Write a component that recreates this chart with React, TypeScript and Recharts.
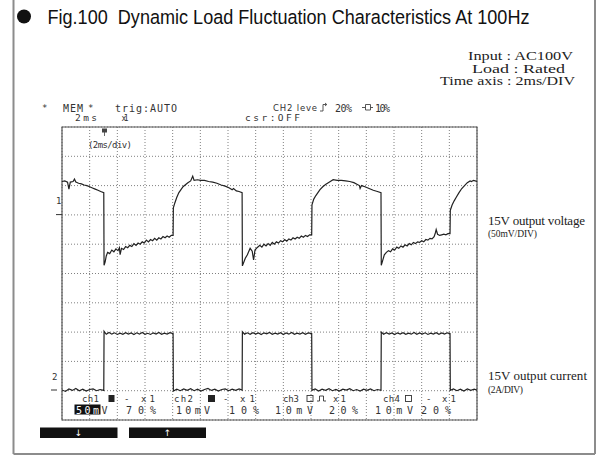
import React from "react";
import { ComposedChart, Line, XAxis, YAxis, CartesianGrid, ReferenceArea } from "recharts";

// time axis: 2 ms/div, 15 divisions
const timeTicksMs = [0, 2, 4, 6, 8, 10, 12, 14, 16, 18, 20, 22, 24, 26, 28, 30];
// ch1: 15V output voltage deviation, 50 mV/div (10 divisions)
const voltageTicksMv = [-350, -300, -250, -200, -150, -100, -50, 0, 50, 100, 150];

// [time ms, mV]
const voltageSamples: [number, number][] = [
  [0, 57], [0.2, 58], [0.4, 56], [0.5, 44], [0.6, 56], [0.8, 57], [0.9, 61], [1.0, 56], [1.2, 54], [1.4, 53],
  [1.6, 51], [1.8, 50], [2.0, 48], [2.2, 46], [2.4, 44], [2.6, 42], [2.8, 40], [3.02, 38],
  [3.04, -86], [3.12, -80], [3.2, -70], [3.3, -64], [3.45, -66], [3.6, -60], [3.75, -63], [3.9, -58], [4.05, -61],
  [4.15, -56], [4.2, -68], [4.3, -57], [4.45, -59], [4.6, -54], [4.75, -56], [4.9, -52], [5.05, -54], [5.2, -49],
  [5.35, -52], [5.5, -48], [5.65, -50], [5.8, -46], [5.95, -48], [6.1, -43], [6.25, -46], [6.4, -42], [6.55, -44],
  [6.7, -40], [6.85, -43], [7.0, -39], [7.15, -41], [7.3, -37], [7.45, -39], [7.6, -36], [7.75, -38], [7.9, -35], [8.03, -35],
  [8.05, 12], [8.15, 20], [8.3, 30], [8.45, 38], [8.6, 43], [8.75, 48], [8.9, 51], [9.1, 55], [9.3, 58], [9.45, 66],
  [9.55, 59], [9.8, 60], [10.0, 59], [10.3, 59], [10.6, 57], [10.9, 56], [11.2, 54], [11.5, 51], [11.8, 49],
  [12.1, 46], [12.3, 43], [12.4, 45], [12.6, 41], [12.8, 40], [13.02, 38],
  [13.04, -87], [13.12, -82], [13.25, -74], [13.4, -68], [13.6, -57], [13.75, -62], [13.85, -77], [13.95, -60],
  [14.1, -56], [14.3, -52], [14.45, -55], [14.6, -50], [14.75, -53], [14.9, -49], [15.05, -52], [15.2, -47],
  [15.35, -50], [15.5, -46], [15.65, -48], [15.8, -44], [15.95, -46], [16.1, -42], [16.25, -45], [16.4, -41],
  [16.55, -43], [16.7, -39], [16.85, -41], [17.0, -38], [17.15, -40], [17.3, -36], [17.45, -38], [17.6, -35],
  [17.75, -37], [17.9, -34], [18.05, -34],
  [18.07, 17], [18.2, 27], [18.35, 33], [18.5, 38], [18.65, 43], [18.85, 48], [19.05, 52], [19.25, 55], [19.45, 58],
  [19.6, 60], [19.9, 59], [20.2, 59], [20.5, 58], [20.8, 57], [21.1, 55], [21.35, 52], [21.5, 50], [21.55, 45],
  [21.65, 50], [21.9, 48], [22.2, 45], [22.5, 42], [22.8, 40], [23.06, 38],
  [23.08, -86], [23.18, -78], [23.3, -68], [23.45, -64], [23.6, -61], [23.75, -63], [23.9, -58], [24.05, -60],
  [24.2, -55], [24.35, -57], [24.5, -53], [24.65, -55], [24.8, -51], [24.95, -53], [25.1, -49], [25.25, -51],
  [25.4, -47], [25.55, -49], [25.7, -46], [25.85, -47], [26.0, -44], [26.15, -46], [26.3, -42], [26.45, -43],
  [26.6, -40], [26.75, -41], [26.9, -37], [27.0, -30], [27.05, -25], [27.15, -33], [27.3, -35], [27.45, -34],
  [27.6, -33], [27.75, -34], [27.9, -32], [28.05, -32],
  [28.07, 8], [28.2, 17], [28.35, 24], [28.5, 30], [28.7, 38], [28.9, 45], [29.1, 50], [29.3, 55], [29.5, 58],
  [29.6, 57], [29.75, 59], [30, 57],
];

// [time ms, A]  ch2: 15V output current, 2 A/div
const currentSamples: [number, number][] = [
  [0, 0.05], [0.25, -0.05], [0.5, 0.12], [0.75, 0.02], [1.0, 0.15], [1.25, 0.0], [1.5, 0.1], [1.75, -0.02],
  [2.0, 0.08], [2.25, 0.12], [2.5, 0.0], [2.75, 0.08], [3.02, 0.02],
  [3.04, 4.05], [3.2, 3.85], [3.4, 3.97], [3.6, 3.86], [3.8, 3.95], [4.0, 3.84], [4.2, 3.93], [4.4, 3.85],
  [4.6, 3.96], [4.8, 3.87], [5.0, 3.94], [5.2, 3.84], [5.4, 3.95], [5.6, 3.86], [5.8, 3.97], [6.0, 3.85],
  [6.2, 3.92], [6.4, 3.84], [6.6, 3.95], [6.8, 3.87], [7.0, 3.98], [7.2, 3.85], [7.4, 3.93], [7.6, 3.86],
  [7.8, 3.96], [8.03, 3.9],
  [8.05, -0.02], [8.3, 0.1], [8.55, 0.0], [8.8, 0.12], [9.05, 0.03], [9.3, 0.14], [9.55, 0.0], [9.8, 0.1],
  [10.05, -0.03], [10.3, 0.08], [10.55, 0.15], [10.8, 0.02], [11.05, 0.1], [11.3, -0.02], [11.55, 0.08],
  [11.8, 0.12], [12.05, 0.0], [12.3, 0.1], [12.55, 0.02], [12.8, 0.12], [13.02, 0.04],
  [13.04, 4.02], [13.2, 3.86], [13.4, 3.95], [13.6, 3.85], [13.8, 3.96], [14.0, 3.86], [14.2, 3.94], [14.4, 3.84],
  [14.6, 3.95], [14.8, 3.88], [15.0, 3.97], [15.2, 3.85], [15.4, 3.93], [15.6, 3.86], [15.8, 3.96], [16.0, 3.84],
  [16.2, 3.94], [16.4, 3.86], [16.6, 3.97], [16.8, 3.85], [17.0, 3.93], [17.2, 3.87], [17.4, 3.96], [17.6, 3.85],
  [17.8, 3.94], [18.05, 3.9],
  [18.07, 0.03], [18.3, 0.12], [18.55, -0.02], [18.8, 0.1], [19.05, 0.02], [19.3, 0.13], [19.55, 0.0],
  [19.8, 0.09], [20.05, -0.03], [20.3, 0.1], [20.55, 0.04], [20.8, 0.14], [21.05, 0.0], [21.3, 0.08],
  [21.55, -0.02], [21.8, 0.1], [22.05, 0.03], [22.3, 0.12], [22.55, 0.0], [22.8, 0.08], [23.06, 0.03],
  [23.08, 4.0], [23.25, 3.85], [23.45, 3.96], [23.65, 3.86], [23.85, 3.94], [24.05, 3.84], [24.25, 3.95],
  [24.45, 3.87], [24.65, 3.96], [24.85, 3.85], [25.05, 3.93], [25.25, 3.86], [25.45, 3.97], [25.65, 3.85],
  [25.85, 3.94], [26.05, 3.86], [26.25, 3.95], [26.45, 3.84], [26.65, 3.93], [26.85, 3.87], [27.05, 3.96],
  [27.25, 3.85], [27.45, 3.94], [27.65, 3.86], [27.85, 3.95], [28.05, 3.9],
  [28.07, 0.02], [28.3, 0.12], [28.55, 0.0], [28.8, 0.1], [29.05, -0.02], [29.3, 0.12], [29.55, 0.02],
  [29.8, 0.1], [30, 0.04],
];

const conditionLines = ["Input : AC100V", "Load : Rated", "Time axis : 2ms/DIV"];

const voltageData = voltageSamples.map(([t, v]) => ({ t, v }));
const currentData = currentSamples.map(([t, a]) => ({ t, a }));

const MONO = "'DejaVu Sans Mono', monospace";
const SERIF = "'Liberation Serif', 'Times New Roman', serif";

function ST(props: { x: number; y: number; w?: number; size?: number; fill?: string; font?: string; anchor?: string; children: React.ReactNode }) {
  const { x, y, w, size = 9, fill = "#333", font = MONO, anchor = "start", children } = props;
  return (
    <text
      x={x}
      y={y}
      fontFamily={font}
      fontSize={size}
      fill={fill}
      textAnchor={anchor as any}
      textLength={w}
      lengthAdjust={w ? "spacing" : undefined}
      style={{ whiteSpace: "pre" }}
    >
      {children}
    </text>
  );
}

// start x and width of each condition line so the colons line up
const conditionX = [468, 472, 440];
const conditionW = [105, 93, 135];

export default function App() {
  return (
    <div style={{ position: "absolute", left: 0, top: 0, width: 597, height: 461, background: "#fff" }}>
      <div style={{ position: "absolute", left: 0, top: 0 }}>
        <ComposedChart width={597} height={461} margin={{ top: 127, right: 120, bottom: 41, left: 62 }}>
          <XAxis type="number" dataKey="t" domain={[0, 30]} ticks={timeTicksMs} hide allowDataOverflow />
          <YAxis yAxisId="v" type="number" domain={[-350, 150]} ticks={voltageTicksMv} hide allowDataOverflow />
          <YAxis yAxisId="a" type="number" domain={[-2, 18]} hide allowDataOverflow />
          <CartesianGrid yAxisId="v" stroke="#808080" strokeDasharray="1 2" />
          <ReferenceArea yAxisId="v" x1={0} x2={30} y1={-350} y2={150} fill="none" fillOpacity={0} stroke="#555" strokeWidth={1.2} />
          <Line yAxisId="v" data={voltageData} dataKey="v" type="linear" stroke="#222" strokeWidth={1.2} dot={false} isAnimationActive={false} />
          <Line yAxisId="a" data={currentData} dataKey="a" type="linear" stroke="#222" strokeWidth={1.2} dot={false} isAnimationActive={false} />
        </ComposedChart>
      </div>
      <svg width={597} height={461} style={{ position: "absolute", left: 0, top: 0, pointerEvents: "none" }}>
        {/* frame */}
        <line x1={13.5} y1={0} x2={13.5} y2={454} stroke="#8c8c8c" strokeWidth={2} />
        <line x1={13.5} y1={454} x2={595} y2={454} stroke="#8c8c8c" strokeWidth={2} />
        <line x1={595} y1={0} x2={595} y2={454} stroke="#8c8c8c" strokeWidth={2} />

        {/* title */}
        <circle cx={24} cy={16.5} r={7} fill="#111" />
        <text x={47.5} y={24} fontFamily="'Liberation Sans', Arial, sans-serif" fontSize={20.5} fill="#111"
          textLength={482} lengthAdjust="spacingAndGlyphs" style={{ whiteSpace: "pre" }}>
          Fig.100  Dynamic Load Fluctuation Characteristics At 100Hz
        </text>

        {/* conditions */}
        {conditionLines.map((line, i) => (
          <text key={line} x={conditionX[i]} y={60 + i * 12.5} fontFamily={SERIF} fontSize={13.5} fill="#222"
            textLength={conditionW[i]} lengthAdjust="spacingAndGlyphs" style={{ whiteSpace: "pre" }}>
            {line}
          </text>
        ))}

        {/* scope header */}
        <ST x={42} y={111} size={9}>*</ST>
        <ST x={63} y={111.5} w={20} size={10}>MEM</ST>
        <ST x={88} y={111} size={9}>*</ST>
        <ST x={115} y={111.5} w={62} size={10}>trig:AUTO</ST>
        <ST x={273} y={111} w={44} size={8.5} font="'DejaVu Sans', sans-serif">CH2 leve</ST>
        <path d="M320 111 H323 V104.5 H326.5 M325 103 L326.8 104.5 L325 106" stroke="#444" strokeWidth={0.9} fill="none" />
        <ST x={335} y={111.5} w={17} size={10}>20%</ST>
        <path d="M362 107.5 H365.5 M365.5 104.5 H370.5 V110 H365.5 Z M370.5 107.5 H373" stroke="#444" strokeWidth={0.9} fill="none" />
        <ST x={375} y={111.5} w={15} size={10}>10%</ST>
        <ST x={75} y={121} w={22} size={9.5}>2ms</ST>
        <ST x={121.5} y={121} w={7} size={8}>x1</ST>
        <ST x={245} y={121} w={55} size={9.5}>csr:OFF</ST>

        {/* in-plot marks */}
        <rect x={102} y={128.5} width={5} height={4} fill="#444" />
        <line x1={104.5} y1={132} x2={104.5} y2={136} stroke="#444" strokeWidth={0.8} />
        <ST x={88} y={148} w={44} size={9}>(2ms/div)</ST>

        {/* channel markers */}
        <ST x={56} y={204} size={9}>1</ST>
        <line x1={56} y1={214.6} x2={62} y2={214.6} stroke="#333" strokeWidth={1} />
        <ST x={52} y={380} size={9}>2</ST>
        <line x1={51} y1={390} x2={57} y2={390} stroke="#333" strokeWidth={1} />

        {/* scope footer row 1 */}
        <ST x={82} y={402} w={17} size={9}>ch1</ST>
        <rect x={108.5} y={395} width={6} height={7} fill="#222" />
        <ST x={124} y={402} size={9}>-</ST>
        <ST x={141} y={402} w={14} size={9}>x 1</ST>
        <ST x={174} y={402} w={19} size={9}>ch2</ST>
        <rect x={208} y={395} width={7} height={7} fill="#222" />
        <ST x={223} y={402} size={9}>-</ST>
        <ST x={240} y={402} w={15} size={9}>x 1</ST>
        <ST x={283} y={402} w={16} size={9}>ch3</ST>
        <rect x={307} y={395.5} width={6} height={6} fill="none" stroke="#333" strokeWidth={0.9} />
        <path d="M317 401 H319.5 V396 H323.5 V401 H326" stroke="#333" strokeWidth={0.9} fill="none" />
        <ST x={333} y={402} w={13} size={9}>x 1</ST>
        <ST x={383} y={402} w={17} size={9}>ch4</ST>
        <rect x={405.5} y={395.5} width={6} height={6} fill="none" stroke="#333" strokeWidth={0.9} />
        <ST x={426} y={402} size={9}>-</ST>
        <ST x={442} y={402} w={14} size={9}>x 1</ST>

        {/* scope footer row 2 */}
        <rect x={74.5} y={404.5} width={26} height={10} fill="#111" />
        <ST x={76} y={413.5} w={23} size={10} fill="#fff">50m</ST>
        <ST x={101.5} y={413.5} size={10}>V</ST>
        <ST x={126} y={413.5} w={30} size={10}>70%</ST>
        <ST x={176} y={413.5} w={34} size={10}>10mV</ST>
        <ST x={229} y={413.5} w={30} size={10}>10%</ST>
        <ST x={275} y={413.5} w={38} size={10}>10mV</ST>
        <ST x={329} y={413.5} w={29} size={10}>20%</ST>
        <ST x={375} y={413.5} w={38} size={10}>10mV</ST>
        <ST x={421} y={413.5} w={30} size={10}>20%</ST>

        {/* buttons */}
        <rect x={40} y={427.5} width={77.5} height={10.5} fill="#111" />
        <ST x={78.5} y={436} size={9} fill="#fff" anchor="middle" font="'DejaVu Sans', sans-serif">↓</ST>
        <rect x={129} y={427.5} width={77} height={10.5} fill="#111" />
        <ST x={167.5} y={436} size={9} fill="#fff" anchor="middle" font="'DejaVu Sans', sans-serif">↑</ST>

        {/* channel labels */}
        <ST x={488} y={225} w={97} size={13} font={SERIF} fill="#222">15V output voltage</ST>
        <ST x={488} y={236.5} w={49} size={9.5} font={SERIF} fill="#222">(50mV/DIV)</ST>
        <ST x={488} y={380} w={99} size={13} font={SERIF} fill="#222">15V output current</ST>
        <ST x={488} y={392.5} w={35} size={9.5} font={SERIF} fill="#222">(2A/DIV)</ST>
      </svg>
    </div>
  );
}
